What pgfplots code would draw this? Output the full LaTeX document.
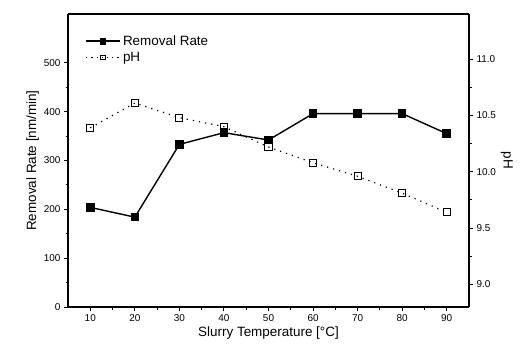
\documentclass[border=0pt]{standalone}
\usepackage{pgfplots}
\pgfplotsset{compat=1.18}
\usepackage{fontspec}
\setmainfont{Liberation Sans}
\usetikzlibrary{calc}
\begin{document}
\begin{tikzpicture}[x=1bp,y=1bp]
\pgfplotsset{
  common/.style={
    scale only axis, width=401bp, height=293bp,
    xmin=5, xmax=95,
    axis line style={line width=1.6bp},
    tick style={line width=1bp, black},
    tick align=outside,
    major tick length=4bp, minor tick length=2.5bp,
    /pgf/number format/assume math mode=true,
    tick label style={font=\fontsize{10}{11}\selectfont},
    label style={font=\fontsize{13.5}{15}\selectfont},
  }
}
\begin{axis}[common, name=ax,
  ymin=0, ymax=600,
  axis y line*=left, axis x line*=bottom,
  xtick={10,20,...,90}, minor x tick num=1,
  ytick={0,100,...,500}, minor y tick num=1,
  xlabel={Slurry Temperature [\textdegree C]},
  ylabel={Removal Rate [nm/min]},
  xlabel style={yshift=2bp},
  ylabel style={yshift=-2bp},
  legend style={at={(0.035,0.94)}, anchor=north west, draw=none, fill=none,
    font=\fontsize{13.5}{15}\selectfont, row sep=1bp,
    legend image code/.code={\draw[mark repeat=2,mark phase=2,##1] plot coordinates {(0bp,0bp) (17bp,0bp) (34bp,0bp)};}},
  legend cell align=left,
]
\addplot[black, line width=1.4bp, mark=square*, mark size=3.6bp, mark options={solid}, forget plot]
  coordinates {(10,204) (20,184) (30,333) (40,357) (50,342) (60,396) (70,396) (80,396) (90,355)};
\addlegendimage{black, line width=1.8bp, mark=square*, mark size=2.4bp, mark options={solid}}
\addlegendentry{Removal Rate}
\addlegendimage{black, line width=1.2bp, dash pattern=on 1.2bp off 4bp, mark=square, mark size=2.4bp, mark options={solid, line width=0.9bp}}
\addlegendentry{pH}
\end{axis}
\draw[line width=1.6bp] (ax.north west) -- (ax.north east);
\begin{axis}[common,
  ymin=8.8, ymax=11.4,
  axis y line*=right, axis x line=none,
  ytick={9.0,9.5,10.0,10.5,11.0}, minor y tick num=1,
  yticklabel style={/pgf/number format/.cd, fixed, fixed zerofill, precision=1},
  ylabel={pH},
  ylabel style={rotate=180, yshift=-2bp},
]
\addplot[black, line width=1.2bp, dash pattern=on 1.2bp off 5bp, mark=square, mark size=3.6bp, mark options={solid, line width=1bp, fill=white}]
  coordinates {(10,10.39) (20,10.61) (30,10.48) (40,10.40) (50,10.22) (60,10.08) (70,9.96) (80,9.81) (90,9.64)};
\end{axis}
\pgfresetboundingbox
\path[use as bounding box] ($(ax.south west)+(-68bp,-51bp)$) rectangle ($(ax.north east)+(63bp,14bp)$);
\end{tikzpicture}
\end{document}
